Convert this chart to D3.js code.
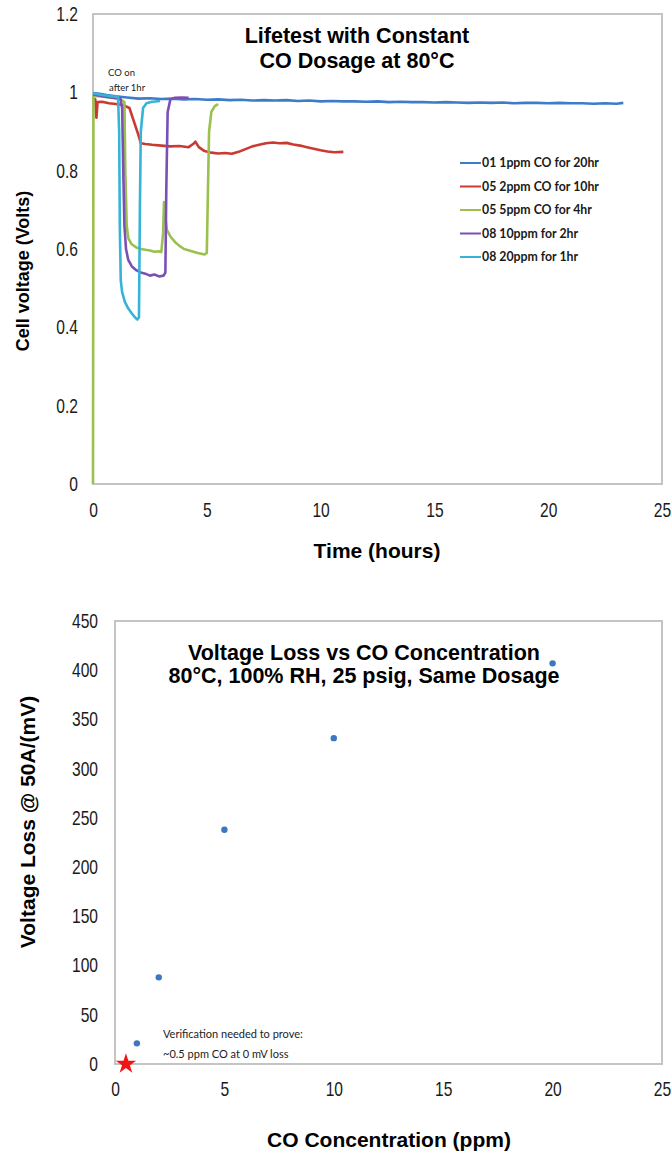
<!DOCTYPE html>
<html>
<head>
<meta charset="utf-8">
<script src="https://cdn.jsdelivr.net/npm/d3@7"></script>
<style>
  body { margin: 0; background: #fff; }
  svg { display: block; font-family: "Liberation Sans", Arial, sans-serif; }
</style>
</head>
<body>
<svg id="chart" width="672" height="1152"></svg>
<script>
// ---- data: lifetest (hours, volts) ----
const series1ppm = [[0,0.998],[0.3,0.996],[0.6,0.993],[1.0,0.99],[1.5,0.987],[2.0,0.984],[2.5,0.985],[3,0.983],[3.5,0.984],[4,0.982],[4.5,0.983],[5,0.981],[5.5,0.982],[6,0.98],[6.5,0.981],[7,0.979],[7.5,0.98],[8,0.979],[8.5,0.98],[9,0.978],[9.5,0.979],[10,0.977],[10.5,0.978],[11,0.977],[11.5,0.977],[12,0.976],[12.5,0.977],[13,0.975],[13.5,0.976],[14,0.975],[14.5,0.975],[15,0.974],[15.5,0.975],[16,0.974],[16.5,0.973],[17,0.974],[17.5,0.973],[18,0.974],[18.5,0.972],[19,0.973],[19.5,0.973],[20,0.972],[20.5,0.973],[21,0.972],[21.5,0.972],[22,0.971],[22.5,0.972],[23,0.971],[23.3,0.973]];
const series2ppm = [[0,0.985],[0.1,0.982],[0.15,0.935],[0.2,0.975],[0.4,0.976],[0.7,0.972],[1.0,0.97],[1.3,0.968],[1.6,0.96],[1.8,0.925],[2.0,0.89],[2.1,0.87],[2.3,0.868],[2.6,0.866],[3.0,0.864],[3.4,0.862],[3.8,0.863],[4.2,0.86],[4.4,0.868],[4.5,0.874],[4.65,0.86],[4.9,0.85],[5.2,0.846],[5.5,0.844],[5.8,0.845],[6.1,0.843],[6.4,0.848],[6.7,0.855],[7.0,0.862],[7.3,0.866],[7.6,0.87],[7.9,0.872],[8.2,0.87],[8.5,0.871],[8.8,0.867],[9.1,0.864],[9.4,0.86],[9.7,0.856],[10.0,0.852],[10.3,0.849],[10.6,0.847],[11.0,0.848]];
const series5ppm = [[0,0],[0.02,0.99],[0.3,0.99],[0.8,0.986],[1.2,0.983],[1.38,0.975],[1.42,0.8],[1.48,0.66],[1.55,0.628],[1.7,0.612],[1.9,0.604],[2.1,0.6],[2.3,0.598],[2.5,0.596],[2.7,0.593],[2.9,0.594],[3.0,0.592],[3.08,0.64],[3.12,0.72],[3.18,0.68],[3.25,0.648],[3.4,0.632],[3.6,0.618],[3.8,0.608],[4.0,0.6],[4.3,0.595],[4.6,0.59],[4.9,0.586],[5.0,0.59],[5.05,0.75],[5.1,0.9],[5.2,0.95],[5.35,0.965],[5.5,0.97]];
const series10ppm = [[0,0.995],[0.4,0.99],[0.8,0.987],[1.2,0.984],[1.28,0.96],[1.33,0.8],[1.38,0.66],[1.45,0.6],[1.55,0.572],[1.7,0.556],[1.9,0.546],[2.1,0.54],[2.3,0.537],[2.5,0.532],[2.7,0.535],[2.9,0.53],[3.1,0.532],[3.18,0.54],[3.22,0.75],[3.28,0.95],[3.4,0.982],[3.6,0.986],[3.9,0.987],[4.2,0.986]];
const series20ppm = [[0,0.998],[0.4,0.993],[0.8,0.99],[1.1,0.988],[1.15,0.9],[1.18,0.65],[1.22,0.52],[1.28,0.49],[1.4,0.465],[1.55,0.448],[1.7,0.436],[1.85,0.425],[1.95,0.42],[2.02,0.425],[2.06,0.7],[2.1,0.9],[2.2,0.96],[2.35,0.972],[2.6,0.976],[2.95,0.978]];
const seriesNames = ["01 1ppm CO for 20hr","05 2ppm CO for 10hr","05 5ppm CO for 4hr","08 10ppm for 2hr","08 20ppm for 1hr"];
const seriesColors = ["#3d7cc9","#c83a32","#9ac04e","#7b50b5","#35b4d8"];
const timeTicks = [0,5,10,15,20,25];
const voltTicks = [0,0.2,0.4,0.6,0.8,1,1.2];

// ---- data: voltage loss vs CO concentration ----
const coConc = [1,2,5,10,20];
const voltLoss = [21,88,238,331,407];
const starPoint = [0.5,0];
const concTicks = [0,5,10,15,20,25];
const lossTicks = [0,50,100,150,200,250,300,350,400,450];

const svg = d3.select("#chart");
svg.append("rect").attr("width",672).attr("height",1152).attr("fill","#fff");

const squeeze = 0.78;   // tick labels look condensed

function frame(x0,y0,x1,y1){
  svg.append("rect")
    .attr("x",x0).attr("y",y0).attr("width",x1-x0).attr("height",y1-y0)
    .attr("fill","none").attr("stroke","#c4c4c4").attr("stroke-width",2);
}

function drawAxes(x, y, yBottom, xLeft, padX, padY, fmt){
  const gx = svg.append("g").attr("transform",`translate(0,${yBottom})`)
    .call(d3.axisBottom(x).tickValues(x.ticksList).tickSize(0).tickPadding(padX));
  const gy = svg.append("g").attr("transform",`translate(${xLeft},0)`)
    .call(d3.axisLeft(y).tickValues(y.ticksList).tickSize(0).tickPadding(padY).tickFormat(fmt));
  [gx,gy].forEach(g => {
    g.select(".domain").remove();
    g.selectAll("text").attr("font-size",20).attr("fill","#1a1a1a")
      .attr("font-family","'Liberation Sans', Arial, sans-serif");
  });
  gx.selectAll("text").attr("transform",`scale(${squeeze},1)`);
  gy.selectAll("text").attr("x",-padY/squeeze).attr("transform",`scale(${squeeze},1)`);
}

// ================= top chart =================
const xT = d3.scaleLinear().domain([0,25]).range([93,662]);
const yT = d3.scaleLinear().domain([0,1.2]).range([484,14]);
xT.ticksList = timeTicks; yT.ticksList = voltTicks;

frame(93,14,662,484);

const lineT = d3.line().x(d => xT(d[0])).y(d => yT(d[1]));
[series1ppm,series2ppm,series5ppm,series10ppm,series20ppm].forEach((s,i) => {
  svg.append("path").datum(s)
    .attr("d",lineT).attr("fill","none")
    .attr("stroke",seriesColors[i]).attr("stroke-width",2.6)
    .attr("stroke-linejoin","round");
});

drawAxes(xT,yT,484,93,19,15,d3.format("~g"));

// title
svg.append("text").attr("x",357).attr("y",43).attr("text-anchor","middle")
  .attr("font-size",21.5).attr("font-weight","bold").text("Lifetest with Constant");
svg.append("text").attr("x",357).attr("y",68).attr("text-anchor","middle")
  .attr("font-size",21.5).attr("font-weight","bold").text("CO Dosage at 80°C");

// "CO on after 1hr" note
svg.append("text").attr("x",108).attr("y",76).attr("font-family","Lato, sans-serif")
  .attr("font-size",9.5).attr("fill","#222").text("CO on");
svg.append("text").attr("x",109).attr("y",91).attr("font-family","Lato, sans-serif")
  .attr("font-size",9.5).attr("fill","#222").text("after 1hr");

// legend
const legend = svg.append("g");
seriesNames.forEach((name,i) => {
  const yy = 163 + i*23.5;
  legend.append("line").attr("x1",460).attr("x2",481).attr("y1",yy).attr("y2",yy)
    .attr("stroke",seriesColors[i]).attr("stroke-width",2);
  legend.append("text").attr("x",482).attr("y",yy+4).attr("font-family","Lato, sans-serif")
    .attr("font-size",12.3).attr("font-weight","bold").attr("fill","#1a1a1a").text(name);
});

// axis titles
svg.append("text").attr("x",377).attr("y",558).attr("text-anchor","middle")
  .attr("font-size",21).attr("font-weight","bold").text("Time (hours)");
svg.append("text").attr("transform","translate(29,271) rotate(-90)").attr("text-anchor","middle")
  .attr("font-size",18).attr("font-weight","bold").text("Cell voltage (Volts)");

// ================= bottom chart =================
const xB = d3.scaleLinear().domain([0,25]).range([115,662]);
const yB = d3.scaleLinear().domain([0,450]).range([1064,621]);
xB.ticksList = concTicks; yB.ticksList = lossTicks;

frame(115,621,662,1064);
drawAxes(xB,yB,1064,115,18,17,d3.format("d"));

svg.append("text").attr("x",364).attr("y",660).attr("text-anchor","middle")
  .attr("font-size",21.5).attr("font-weight","bold").text("Voltage Loss vs CO Concentration");
svg.append("text").attr("x",364).attr("y",683).attr("text-anchor","middle")
  .attr("font-size",21.5).attr("font-weight","bold").text("80°C, 100% RH, 25 psig, Same Dosage");

svg.selectAll("circle.pt")
  .data(coConc.map((c,i) => [c,voltLoss[i]]))
  .enter().append("circle").attr("class","pt")
  .attr("cx",d => xB(d[0])).attr("cy",d => yB(d[1]))
  .attr("r",3.2).attr("fill","#3b78c2");

svg.append("path")
  .attr("d",d3.symbol(d3.symbolStar,130)())
  .attr("transform",`translate(${xB(starPoint[0])},${yB(starPoint[1])})`)
  .attr("fill","#f01414");

svg.append("text").attr("x",163).attr("y",1038).attr("font-family","Lato, sans-serif")
  .attr("font-size",11).attr("fill","#222").text("Verification needed to prove:");
svg.append("text").attr("x",163).attr("y",1058).attr("font-family","Lato, sans-serif")
  .attr("font-size",11).attr("fill","#222").text("~0.5 ppm CO at 0 mV loss");

svg.append("text").attr("x",389).attr("y",1147).attr("text-anchor","middle")
  .attr("font-size",21).attr("font-weight","bold").text("CO Concentration (ppm)");
svg.append("text").attr("transform","translate(35,822) rotate(-90)").attr("text-anchor","middle")
  .attr("font-size",21).attr("font-weight","bold").text("Voltage Loss @ 50A/(mV)");
</script>
</body>
</html>
